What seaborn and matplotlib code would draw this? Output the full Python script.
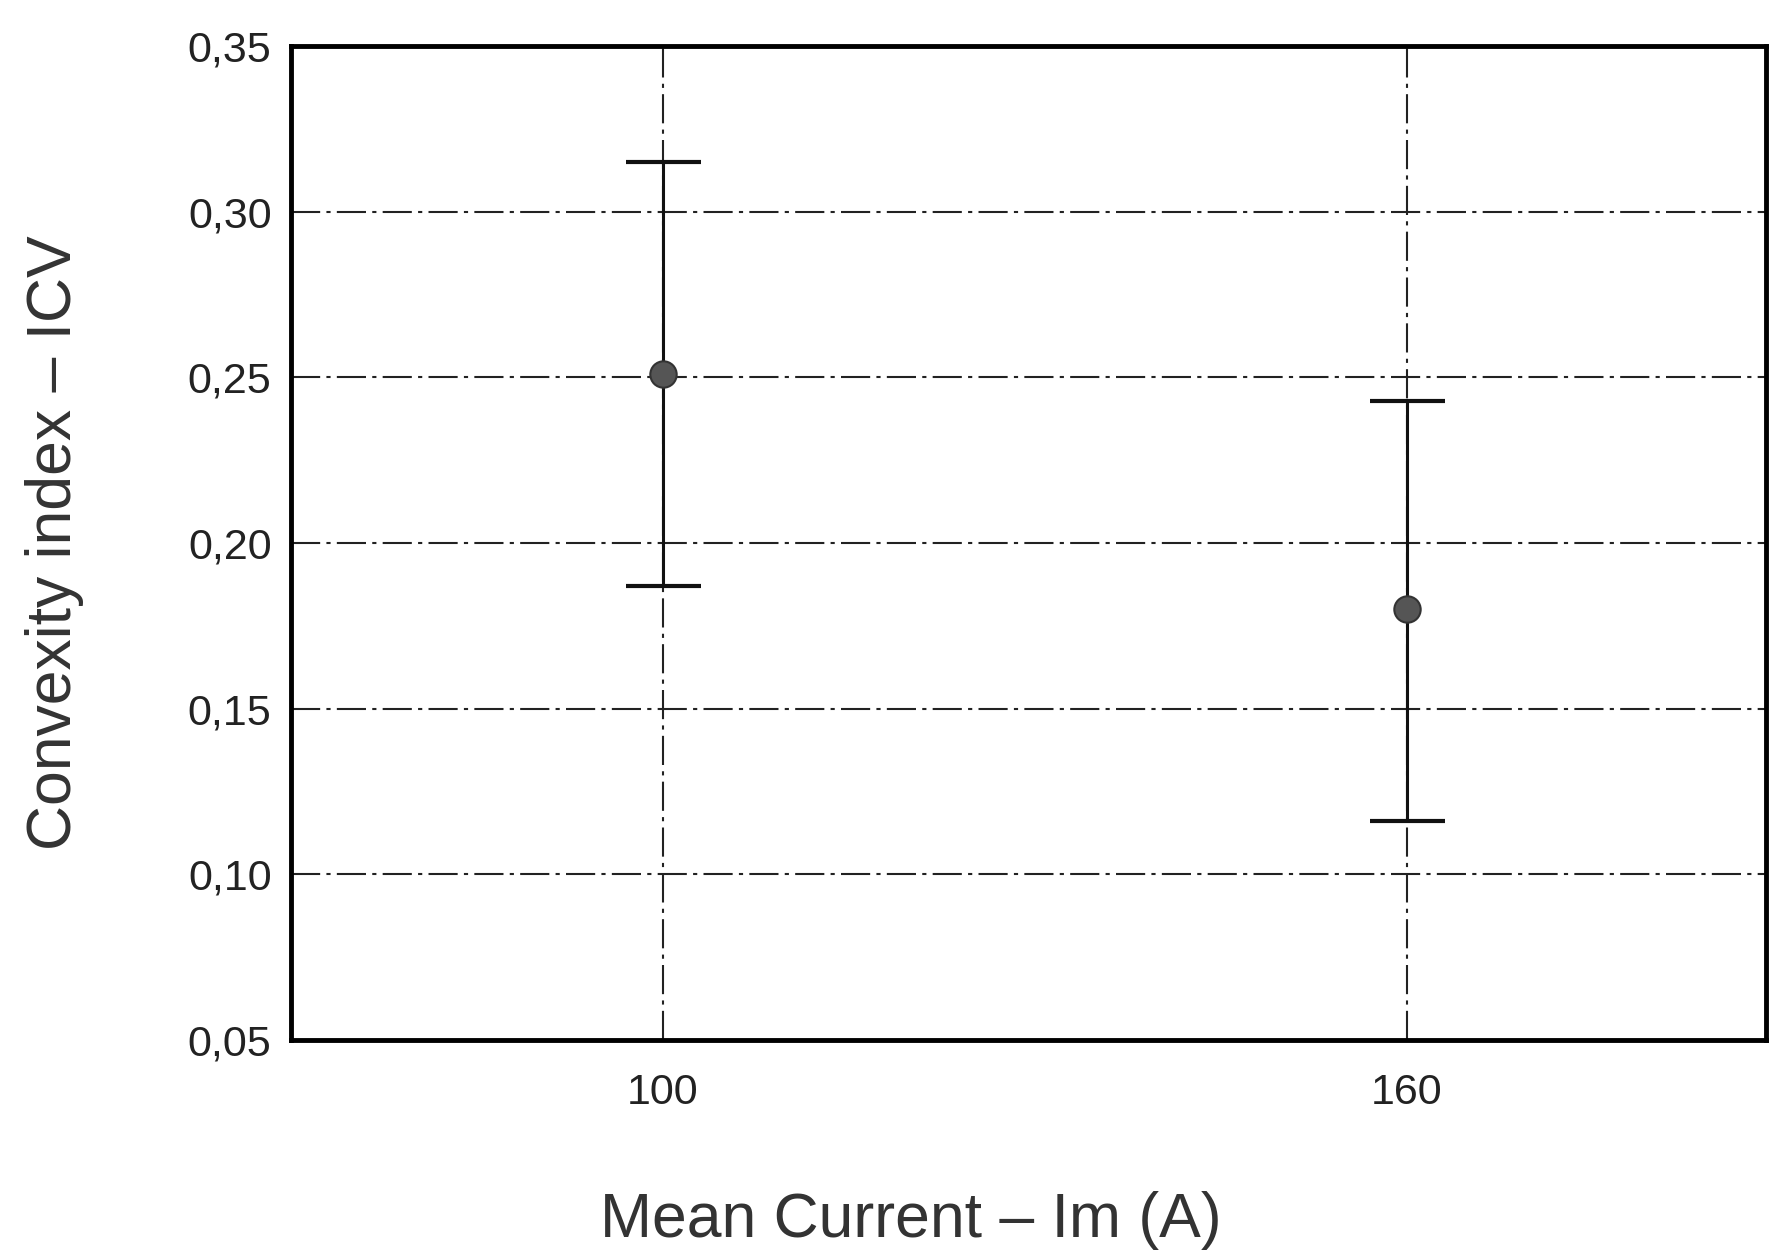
import matplotlib
matplotlib.use("Agg")
import matplotlib.pyplot as plt
import seaborn as sns
import pandas as pd

# values
current = [100, 160]
icv_mean = [0.251, 0.180]
icv_upper = [0.315, 0.243]
icv_lower = [0.187, 0.116]
y_ticks = [0.05, 0.10, 0.15, 0.20, 0.25, 0.30, 0.35]
y_labels = ["0,05", "0,10", "0,15", "0,20", "0,25", "0,30", "0,35"]
x_ticks = [100, 160]
x_labels = ["100", "160"]

df = pd.DataFrame({"current": current, "mean": icv_mean,
                   "upper": icv_upper, "lower": icv_lower})

sns.set_style("white")
plt.rcParams['font.family'] = ['Liberation Sans', 'DejaVu Sans']

fig = plt.figure(figsize=(17.7, 12.55), dpi=100)
ax = fig.add_axes([0.1644, 0.1713, 0.8336, 0.792])

# error bars
ax.errorbar(df["current"], df["mean"],
            yerr=[df["mean"] - df["lower"], df["upper"] - df["mean"]],
            fmt="none", ecolor="#111111", elinewidth=2.2,
            capsize=27, capthick=3, zorder=3)

# mean points
sns.scatterplot(data=df, x="current", y="mean", ax=ax, s=360,
                color="#555555", edgecolor="#333333", linewidth=1.5, zorder=4)

ax.set_xlim(70, 189)
ax.set_ylim(0.05, 0.35)
ax.set_xticks(x_ticks)
ax.set_xticklabels(x_labels)
ax.set_yticks(y_ticks)
ax.set_yticklabels(y_labels)

ax.grid(True, color="#222222", linewidth=1.5, linestyle=(0, (14, 3, 2, 3)))
ax.set_axisbelow(True)

for sp in ax.spines.values():
    sp.set_visible(True)
    sp.set_color("#000000")
    sp.set_linewidth(3.5)

ax.tick_params(axis="both", length=0, labelsize=31, colors="#222222")
ax.tick_params(axis="y", pad=14)
ax.tick_params(axis="x", pad=24)

ax.set_xlabel("Mean Current – Im (A)", fontsize=45, color="#333333")
ax.set_ylabel("Convexity index – ICV", fontsize=45, color="#333333")
ax.xaxis.set_label_coords(0.42, -0.152)
ax.yaxis.set_label_coords(-0.14, 0.5)

fig.savefig("out.png", dpi=100)
